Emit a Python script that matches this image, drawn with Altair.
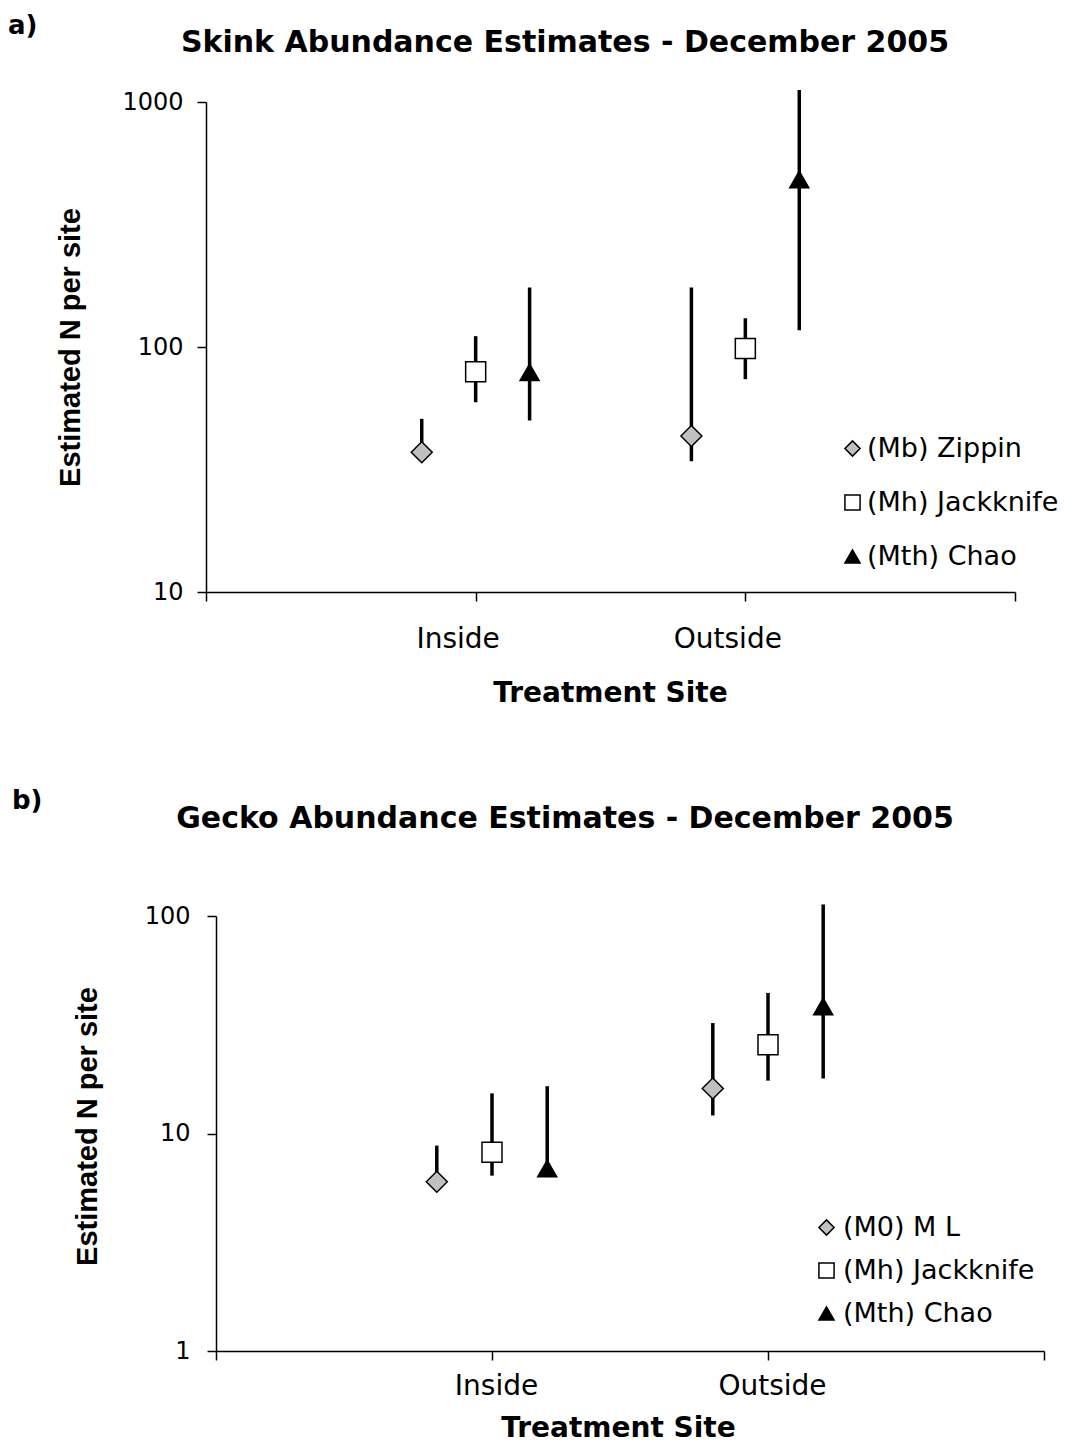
import altair as alt
import pandas as pd

FONT = "DejaVu Sans"
YFONT = "Liberation Sans"

sites = ["Inside", "Outside"]

skink_series = ["(Mb) Zippin", "(Mh) Jackknife", "(Mth) Chao"]
skink_est_inside = [37.2, 79.3, 78.8]
skink_low_inside = [37.2, 59.5, 50.1]
skink_high_inside = [50.9, 110.7, 175.0]
skink_est_outside = [43.3, 98.6, 483.0]
skink_low_outside = [34.2, 73.9, 117.0]
skink_high_outside = [175.0, 131.0, 1120.0]

gecko_series = ["(M0) M L", "(Mh) Jackknife", "(Mth) Chao"]
gecko_est_inside = [6.0, 8.2, 6.9]
gecko_low_inside = [6.0, 6.4, 6.9]
gecko_high_inside = [8.8, 15.3, 16.5]
gecko_est_outside = [16.1, 25.6, 38.4]
gecko_low_outside = [12.1, 17.5, 17.9]
gecko_high_outside = [32.2, 44.3, 113.0]

shapes = ["diamond", "square", "triangle-up"]
fills = ["#c0c0c0", "#ffffff", "#000000"]
strokes = ["#000000", "#000000", "#000000"]
sizes = [441, 361, 484]


def build(series, est_in, low_in, high_in, est_out, low_out, high_out):
    rows = []
    groups = [(est_in, low_in, high_in), (est_out, low_out, high_out)]
    for si, (ests, lows, highs) in enumerate(groups):
        for ki, name in enumerate(series):
            rows.append(dict(site=sites[si], site_idx=si + 1, series=name,
                             series_idx=ki, est=ests[ki], low=lows[ki], high=highs[ki]))
    return pd.DataFrame(rows)


def panel(df, series, tag, title, ydomain, yvalues, width, height, c):
    xscale = alt.Scale(domain=[0, 3], nice=False, zero=False, range=c["xrange"])
    xaxis = alt.Axis(values=[0, 1, 2, 3],
                     labelExpr="datum.value == 1 ? 'Inside' : (datum.value == 2 ? 'Outside' : '')",
                     title="Treatment Site", grid=False,
                     labelFont=FONT, labelFontSize=28, labelColor="black",
                     labelPadding=c["xlabpad"], labelOffset=c["xlaboff"],
                     labelFlush=False, labelOverlap=False,
                     titleFont=FONT, titleFontSize=28, titleFontWeight="bold",
                     titleColor="black", titlePadding=c["xtitlepad"],
                     titleX=c["xtitlex"],
                     domainColor="black", domainWidth=1.5,
                     tickColor="black", tickWidth=1.5, tickSize=9)
    yscale = alt.Scale(type="log", domain=ydomain, nice=False)
    yaxis = alt.Axis(values=yvalues, format="d", title="Estimated N per site", grid=False,
                     labelFont=FONT, labelFontSize=24, labelColor="black",
                     labelPadding=c["ylabpad"], labelFlush=False, labelOverlap=False,
                     titleFont=YFONT, titleFontSize=29, titleFontWeight="bold",
                     titleColor="black", titlePadding=c["ytitlepad"],
                     titleY=c["ytitley"],
                     offset=c["yoff"],
                     domainColor="black", domainWidth=1.5,
                     tickColor="black", tickWidth=1.5, tickSize=9)
    legend = alt.Legend(title=None, orient="none", legendX=c["legx"], legendY=c["legy"],
                        labelFont=FONT, labelFontSize=27, labelColor="black", labelLimit=0,
                        symbolSize=230, symbolStrokeWidth=1.5,
                        rowPadding=c["rowpad"], labelOffset=c["legoff"], padding=0,
                        symbolOpacity=1)
    base = alt.Chart(df).transform_calculate(
        xpos="datum.site_idx + (datum.series_idx - 1) * 0.2")
    rules = base.mark_rule(color="black", strokeWidth=3.5).encode(
        x=alt.X("xpos:Q", scale=xscale, axis=xaxis),
        y=alt.Y("low:Q", scale=yscale, axis=yaxis),
        y2="high:Q")
    points = base.mark_point(filled=True, strokeWidth=1.5, opacity=1).encode(
        x=alt.X("xpos:Q", scale=xscale, axis=xaxis),
        y=alt.Y("est:Q", scale=yscale, axis=yaxis),
        shape=alt.Shape("series:N", scale=alt.Scale(domain=series, range=shapes), legend=legend),
        fill=alt.Fill("series:N", scale=alt.Scale(domain=series, range=fills), legend=legend),
        stroke=alt.Stroke("series:N", scale=alt.Scale(domain=series, range=strokes), legend=legend),
        size=alt.Size("series_idx:O", scale=alt.Scale(domain=[0, 1, 2], range=sizes), legend=None))
    tag_layer = alt.Chart(pd.DataFrame({"tag": [tag]})).mark_text(
        align="left", baseline="middle", font=FONT, fontSize=26, fontWeight="bold",
        color="black").encode(text="tag:N", x=alt.value(c["tagx"]), y=alt.value(c["tagy"]))
    title_layer = alt.Chart(pd.DataFrame({"title": [title]})).mark_text(
        align="center", baseline="middle", font=FONT, fontSize=30, fontWeight="bold",
        color="black").encode(text="title:N", x=alt.value(c["titlex"]), y=alt.value(c["titley"]))
    return alt.layer(rules, points, tag_layer, title_layer).properties(
        width=width, height=height)


skink = build(skink_series, skink_est_inside, skink_low_inside, skink_high_inside,
              skink_est_outside, skink_low_outside, skink_high_outside)
gecko = build(gecko_series, gecko_est_inside, gecko_low_inside, gecko_high_inside,
              gecko_est_outside, gecko_low_outside, gecko_high_outside)

top = panel(skink, skink_series, "a)", "Skink Abundance Estimates - December 2005",
            [10, 1000], [10, 100, 1000], 809, 490,
            dict(xrange=[0, 809], xlabpad=24, xlaboff=-18, xtitlepad=26, xtitlex=404,
                 ylabpad=14, ytitlepad=36, ytitley=245, yoff=0,
                 legx=633, legy=333, rowpad=26, legoff=1, tagx=-198, tagy=-76,
                 titlex=359, titley=-59))
bottom = panel(gecko, gecko_series, "b)", "Gecko Abundance Estimates - December 2005",
               [1, 100], [1, 10, 100], 838, 435,
               dict(xrange=[10, 838], xlabpad=12, xlaboff=4, xtitlepad=14, xtitlex=412,
                    ylabpad=17, ytitlepad=42, ytitley=210, yoff=-10,
                    legx=607, legy=298, rowpad=15, legoff=3, tagx=-194, tagy=-115,
                    titlex=359, titley=-97))

chart = alt.concat(top, bottom, columns=1, spacing=81).properties(
    align="none", padding={"left": 0, "top": 5, "right": 0, "bottom": 0}
).resolve_scale(
    shape="independent", fill="independent", stroke="independent", size="independent"
).resolve_legend(
    shape="independent", fill="independent", stroke="independent", size="independent"
).configure_view(stroke=None)

chart.save("out.html", embed_options={"renderer": "svg", "actions": False})
